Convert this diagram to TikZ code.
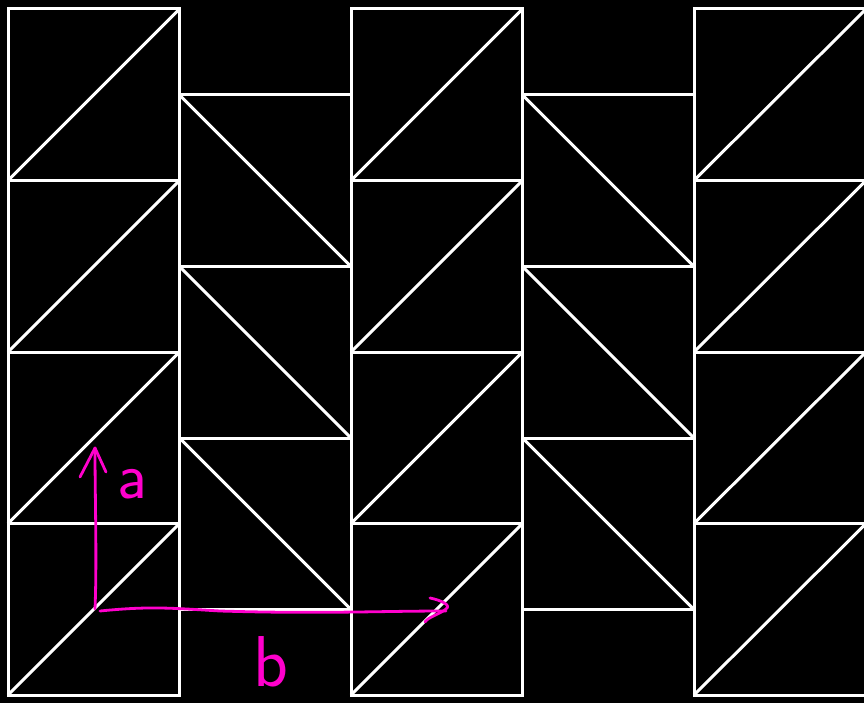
\documentclass[tikz,border=0pt]{standalone}
\begin{document}
\begin{tikzpicture}[x=1pt,y=-1pt,
  tile/.style={draw=white,line width=3pt,line join=miter},
  vec/.style={draw=vecmag,line width=2.8pt,line cap=round,line join=round},
  lbl/.style={text=vecmag,font=\sffamily,inner sep=0pt}]
\definecolor{vecmag}{RGB}{255,0,204}
\fill[black] (0,0) rectangle (864,703);
\useasboundingbox (0,0) rectangle (864,703);
\begin{scope}
\clip (0,0) rectangle (864,703);
% columns with / diagonals
\foreach \xa/\xb in {8/179.5,351/522.5,694/866}{
  \foreach \ya/\yb in {9/180.5,180.5/352,352/523.5,523.5/695}{
    \draw[tile] (\xa,\ya) rectangle (\xb,\yb);
    \draw[tile] (\xa,\yb) -- (\xb,\ya);
  }
}
% columns with \ diagonals
\foreach \xa/\xb in {179.5/351,522.5/694}{
  \foreach \ya/\yb in {95/266.5,266.5/438,438/609.5}{
    \draw[tile] (\xa,\ya) rectangle (\xb,\yb);
    \draw[tile] (\xa,\ya) -- (\xb,\yb);
  }
}
\end{scope}
% lattice vectors
\coordinate (O) at (95,609);
\coordinate (A) at (95,448);
\coordinate (B) at (446,611);
\draw[vec] (O) .. controls (97,560) and (95,500) .. (A);
\draw[vec] (80,477) -- (A) -- (106,472);
\draw[vec] (100,611) .. controls (150,606) and (170,608) .. (220,611) .. controls (320,614) and (380,611) .. (B);
\draw[vec] (430,598) .. controls (440,600) and (452,605) .. (446,609) .. controls (440,614) and (428,617) .. (425,622);
\node[lbl,font=\sffamily\fontsize{66}{66}\selectfont] (la) at (132,484) {a};
\node[lbl,font=\sffamily\fontsize{72}{72}\selectfont] (lb) at (271,662) {b};
\end{tikzpicture}
\end{document}
